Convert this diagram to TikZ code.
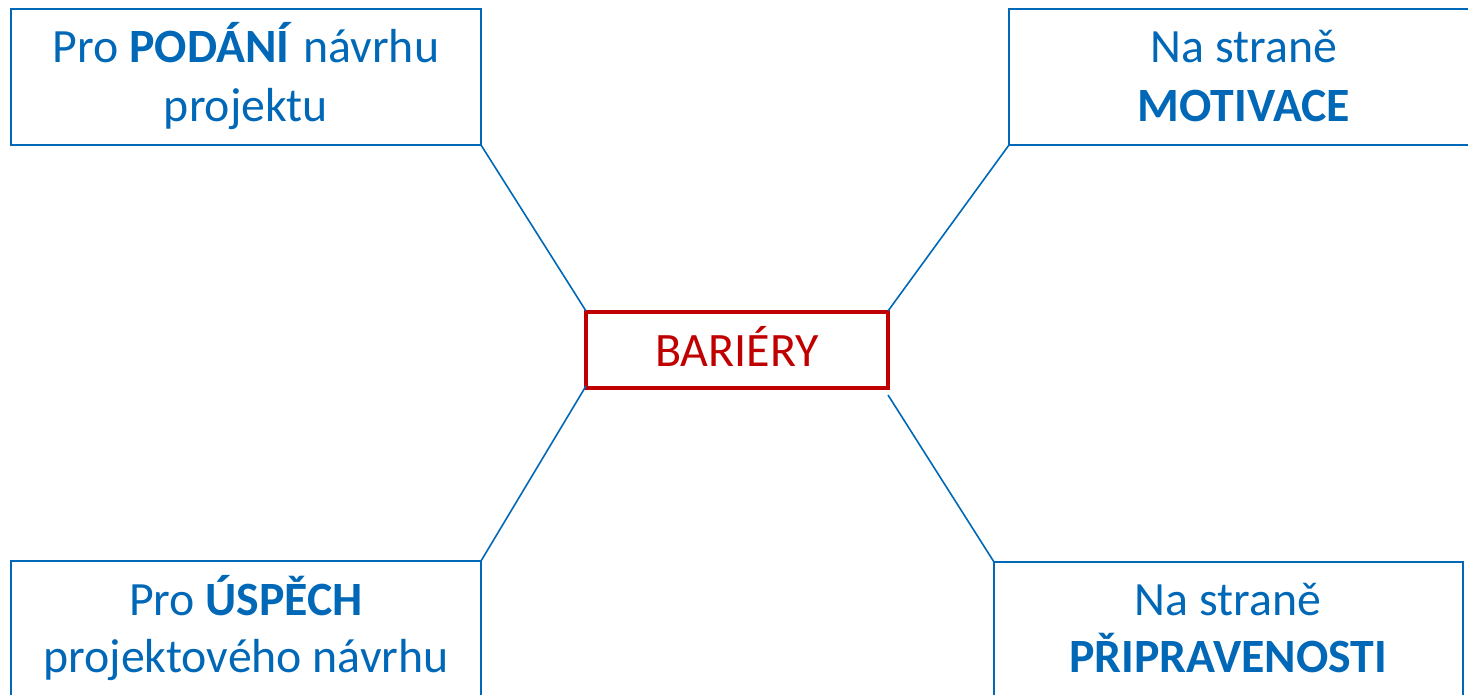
\documentclass[tikz,border=0pt]{standalone}
\usepackage{fontspec}
\setmainfont{Carlito}
\definecolor{cblue}{RGB}{0,104,182}
\definecolor{cred}{RGB}{192,0,0}
\tikzset{
  box/.style={draw=cblue, line width=1.6pt},
  hub/.style={draw=cred, line width=4pt, minimum width=302pt, minimum height=76pt, inner sep=0pt},
  txt/.style={text=cblue, font=\fontsize{47.8}{56}\selectfont, anchor=base, inner sep=0pt},
  rtxt/.style={text=cred, font=\fontsize{48}{56}\selectfont, anchor=base, inner sep=0pt},
  link/.style={draw=cblue, line width=1.6pt}
}
\begin{document}
\begin{tikzpicture}[x=1pt,y=-1pt]
\useasboundingbox (0,0) rectangle (1468,695);
% boxes
\draw[box] (11,9) rectangle (481,145);
\draw[box] (1009,9) rectangle (1479,145);
\draw[box] (11,561) rectangle (481,710);
\draw[box] (994,562) rectangle (1463,710);
\node[hub] (c) at (737,350) {};
% corner coordinates
\coordinate (tl) at (481,145);
\coordinate (tr) at (1009,145);
\coordinate (bl) at (481,561);
\coordinate (br) at (994,562);
\coordinate (ctl) at (586,311);
\coordinate (ctr) at (888,311);
\coordinate (cbl) at (586,386);
\coordinate (cbr) at (888,395);
\draw[link] (tl) -- (ctl);
\draw[link] (tr) -- (ctr);
\draw[link] (bl) -- (cbl);
\draw[link] (br) -- (cbr);
% texts
\node[txt] (t1a) at (246,63) {Pro \textbf{PODÁNÍ} návrhu};
\node[txt] (t1b) at (246,122) {projektu};
\node[txt] (t2a) at (1244,63) {Na straně};
\node[txt] (t2b) at (1244,122) {\textbf{MOTIVACE}};
\node[txt] (t3a) at (246,615) {Pro \textbf{ÚSPĚCH}};
\node[txt] (t3b) at (246,672) {projektového návrhu};
\node[txt] (t4a) at (1228,615) {Na straně};
\node[txt] (t4b) at (1228,672) {\textbf{PŘIPRAVENOSTI}};
\node[rtxt] (ct) at (737,366) {BARIÉRY};
\end{tikzpicture}
\end{document}
